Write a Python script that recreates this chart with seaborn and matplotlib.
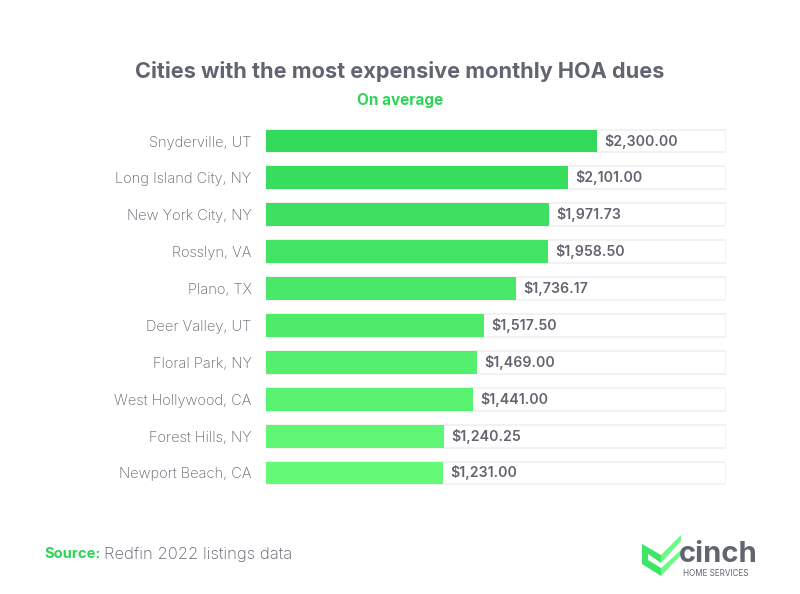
import matplotlib
matplotlib.use('Agg')
import matplotlib.pyplot as plt
from matplotlib.patches import Polygon
import pandas as pd
import seaborn as sns

cities = ['Snyderville, UT', 'Long Island City, NY', 'New York City, NY', 'Rosslyn, VA', 'Plano, TX',
          'Deer Valley, UT', 'Floral Park, NY', 'West Hollywood, CA', 'Forest Hills, NY', 'Newport Beach, CA']
dues = [2300.00, 2101.00, 1971.73, 1958.50, 1736.17, 1517.50, 1469.00, 1441.00, 1240.25, 1231.00]
axis_max = 3200

GREY = '#62646f'
GREEN = '#2ed455'

sns.set_theme(style='white')
plt.rcParams['font.family'] = ['Inter', 'DejaVu Sans']

df = pd.DataFrame({'city': cities, 'dues': dues})
df['track'] = axis_max

fig = plt.figure(figsize=(8, 5.94), dpi=100, facecolor='white')
# axes box in pixels: x 266-726, y 122.6-491.4
ax = fig.add_axes([266 / 800, 1 - 491.4 / 594, 460 / 800, 368.8 / 594])

# pale track behind every bar
sns.barplot(data=df, x='track', y='city', color='white', edgecolor='#f0f0f1', linewidth=1.2,
            width=0.62, saturation=1, ax=ax)
palette = sns.blend_palette(['#33d95b', '#64fa78'], len(cities))
sns.barplot(data=df, x='dues', y='city', hue='city', palette=palette, legend=False,
            width=0.62, saturation=1, linewidth=0, ax=ax)

ax.set_xlim(0, axis_max)
ax.set_xlabel('')
ax.set_ylabel('')
ax.set_xticks([])
sns.despine(ax=ax, left=True, bottom=True)
ax.tick_params(axis='y', length=0, pad=10.4, labelsize=10.5, labelcolor=GREY)
for lab in ax.get_yticklabels():
    lab.set_fontweight('light')

for i, v in enumerate(dues):
    ax.annotate(f'${v:,.2f}', (v, i), xytext=(5.2, 0), textcoords='offset points', va='center', ha='left',
                fontsize=10.2, fontweight='semibold', color=GREY)

fig.text(400 / 800, 1 - 71 / 594, 'Cities with the most expensive monthly HOA dues', ha='center', va='center',
         fontsize=15.6, fontweight='bold', color=GREY)
fig.text(400 / 800, 1 - 100 / 594, 'On average', ha='center', va='center', fontsize=11,
         fontweight='bold', color=GREEN)
fig.text(44 / 800, 1 - 554 / 594, 'Source:', ha='left', va='center', fontsize=10.6,
         fontweight='bold', color=GREEN)
fig.text(104 / 800, 1 - 554 / 594, 'Redfin 2022 listings data', ha='left', va='center', fontsize=12,
         fontweight='light', color=GREY)

# logo
def px(points):
    return [(x / 800, 1 - y / 594) for x, y in points]

fig.add_artist(Polygon(px([(642, 544), (661, 555), (661, 563), (648, 554), (648, 560), (661, 568), (661, 576), (642, 564)]),
                       closed=True, fc='#3fe565', ec='none', transform=fig.transFigure))
fig.add_artist(Polygon(px([(661, 555), (681, 535), (681, 541), (661, 563)]),
                       closed=True, fc='#6df987', ec='none', transform=fig.transFigure))
fig.add_artist(Polygon(px([(661, 568), (681, 550), (681, 555), (661, 576)]),
                       closed=True, fc='#6df987', ec='none', transform=fig.transFigure))
fig.text(679 / 800, 1 - 554 / 594, 'cinch', ha='left', va='center', fontsize=21, fontweight='bold', color=GREY)
fig.text(683 / 800, 1 - 574 / 594, 'HOME SERVICES', ha='left', va='center', fontsize=5.8, color=GREY)

fig.savefig('out.png', dpi=100)
